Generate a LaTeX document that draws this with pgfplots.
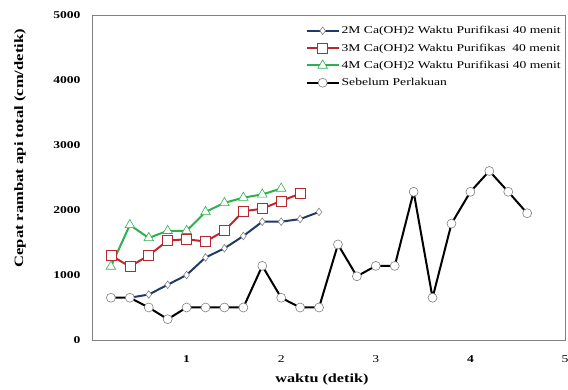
\documentclass[border=0pt]{standalone}
\usepackage{fontspec}
\setmainfont{Liberation Serif}[FakeStretch=1.3]
\usepackage{pgfplots}
\pgfplotsset{compat=1.18}
\definecolor{cblue}{HTML}{1F3A68}
\definecolor{cred}{HTML}{B8282E}
\definecolor{cgreen}{HTML}{2DB14E}
\definecolor{cframe}{HTML}{808080}
\begin{document}
\begin{tikzpicture}
\useasboundingbox (-92bp,-50bp) rectangle (476bp,340bp);
\begin{axis}[
  scale only axis, width=473bp, height=325bp,
  xmin=0, xmax=5, ymin=0, ymax=5000,
  xtick={1,2,3,4,5}, xticklabels={\textbf{1},2,3,\textbf{4},5},
  ytick={0,1000,2000,3000,4000,5000},
  major tick length=0,
  axis line style={draw=cframe, line width=0.8bp},
  /pgf/number format/assume math mode=true,
  /pgf/number format/set thousands separator={},
  yticklabel style={font=\fontsize{10.5}{12}\selectfont\bfseries, xshift=-8bp},
  xticklabel style={font=\fontsize{10.5}{12}\selectfont, yshift=-12bp},
  xlabel={waktu (detik)}, ylabel={Cepat rambat api total (cm/detik)},
  every axis x label/.style={at={(axis description cs:0.486,-0.123)}, anchor=center, font=\fontsize{12.5}{14}\selectfont\bfseries},
  every axis y label/.style={at={(axis description cs:-0.152,0.59)}, anchor=center, rotate=90, font=\fontsize{12.8}{14}\selectfont\bfseries},
  legend style={at={(rel axis cs:0.445,0.978)}, anchor=north west, draw=none, fill=none,
    font=\fontsize{10.5}{12}\selectfont, row sep=4.5bp, cells={anchor=west}},
  legend image code/.code={\draw[mark repeat=2,mark phase=2] plot coordinates {(0bp,0bp) (16bp,0bp) (32bp,0bp)};},
  every axis plot/.append style={line width=2bp},
]
\addplot[cblue, mark=diamond*, mark size=3.8bp, mark options={fill=white, draw=cframe, line width=0.6bp}] coordinates {
 (0.4,650) (0.6,700) (0.8,850) (1.0,1000) (1.2,1270) (1.4,1410) (1.6,1600) (1.8,1820) (2.0,1820) (2.2,1860) (2.4,1970)};
\addlegendentry{2M Ca(OH)2 Waktu Purifikasi 40 menit}
\addplot[cred, mark=square*, mark size=5bp, mark options={fill=white, draw=cred, line width=0.6bp}] coordinates {
 (0.2,1300) (0.4,1130) (0.6,1300) (0.8,1530) (1.0,1550) (1.2,1515) (1.4,1680) (1.6,1980) (1.8,2020) (2.0,2140) (2.2,2250)};
\addlegendentry{3M Ca(OH)2 Waktu Purifikas\ \ 40 menit}
\addplot[cgreen, mark=triangle*, mark size=5.5bp, mark options={fill=white, draw=cgreen, line width=0.6bp}] coordinates {
 (0.2,1130) (0.4,1770) (0.6,1570) (0.8,1680) (1.0,1680) (1.2,1970) (1.4,2110) (1.6,2190) (1.8,2240) (2.0,2330)};
\addlegendentry{4M Ca(OH)2 Waktu Purifikasi 40 menit}
\addplot[black, mark=*, mark size=4.5bp, mark options={fill=white, draw=cframe, line width=0.6bp}] coordinates {
 (0.2,650) (0.4,650) (0.6,500) (0.8,320) (1.0,500) (1.2,500) (1.4,500) (1.6,500) (1.8,1140) (2.0,650) (2.2,500) (2.4,500)
 (2.6,1470) (2.8,980) (3.0,1140) (3.2,1140) (3.4,2280) (3.6,650) (3.8,1790) (4.0,2280) (4.2,2600) (4.4,2280) (4.6,1950)};
\addlegendentry{Sebelum Perlakuan}
\end{axis}
\end{tikzpicture}
\end{document}
